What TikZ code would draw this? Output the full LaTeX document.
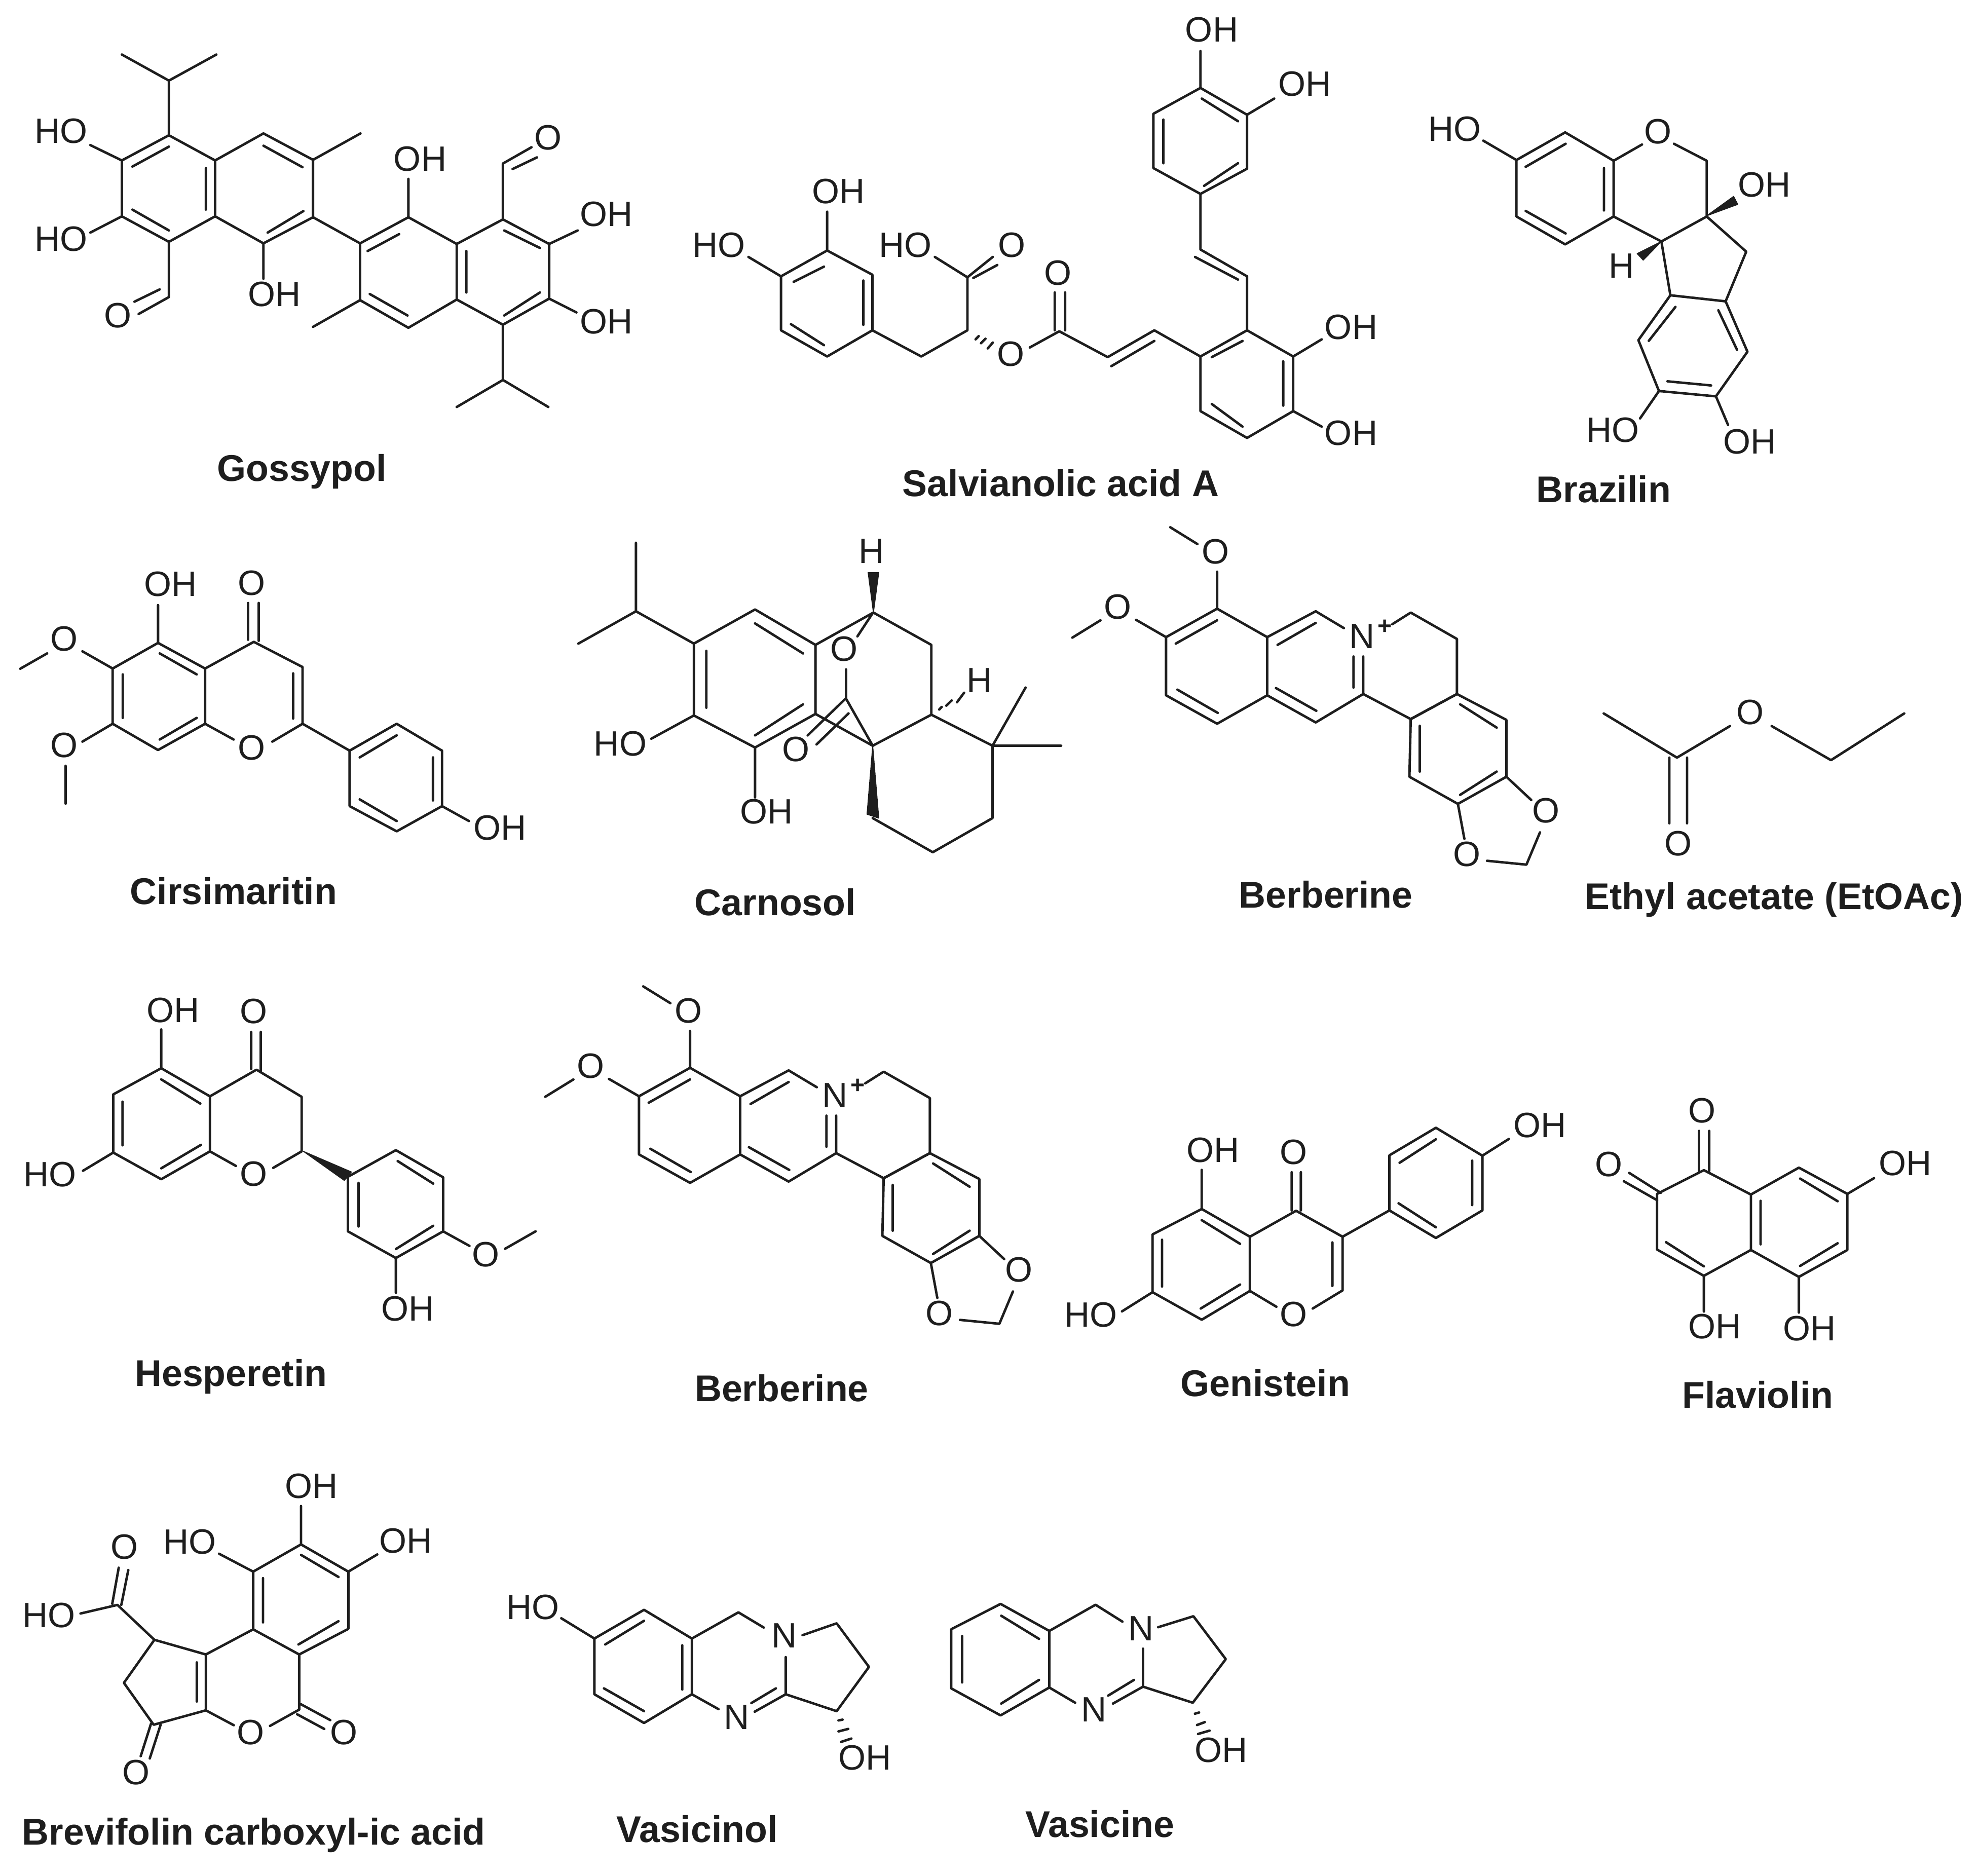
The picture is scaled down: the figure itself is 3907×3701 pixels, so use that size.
\documentclass[tikz,border=0pt]{standalone}
\usepackage{fontspec}
\setmainfont{Liberation Sans}
\definecolor{ink}{HTML}{1E1E1E}
\tikzset{
  bond/.style={draw=ink,line width=0.55pt,line cap=round,line join=round},
  wedgeb/.style={fill=ink,draw=ink,line width=0.2pt,line join=round},
  atom/.style={font=\fontsize{7.9}{8}\selectfont,text=ink,inner sep=0pt,outer sep=0pt},
  plusm/.style={font=\bfseries\fontsize{5.5}{6}\selectfont,text=ink,inner sep=0pt},
  title/.style={font=\bfseries\fontsize{8.35}{9}\selectfont,text=ink,inner sep=0pt,anchor=base},
  zm/.style n args={4}{shift={(#1,#2)},xscale=#3,yscale=#4}
}
\newcommand{\lab}[3]{\node[atom] (#1) at (#2) {#3};}
\newcommand{\berb}[1]{%
  \draw[bond] (473,355)--(628,465)--(628,690)--(473,800)--(315,690)--(315,465)--cycle;
  \draw[bond] (345,490)--(473,400) (350,668)--(475,758) (660,495)--(778,410) (655,662)--(780,750);
  \draw[bond] (628,465)--(778,365)--(865,430) (925,540)--(925,685)--(778,795)--(628,690) (895,540)--(895,660);
  \draw[bond] (1015,415)--(1072,370)--(1215,472)--(1215,685)--(1072,782)--(925,685);
  \draw[bond] (1072,782)--(1215,685)--(1368,785)--(1368,1005)--(1218,1110)--(1068,1005)--cycle;
  \draw[bond] (1225,725)--(1338,815) (1100,808)--(1100,985) (1225,1075)--(1338,985);
  \draw[bond] (1368,1005)--(1445,1095) (1472,1220)--(1430,1345)--(1308,1330) (1238,1245)--(1218,1110);
  \draw[bond] (473,355)--(473,212) (412,105)--(328,40) (315,465)--(222,398) (112,400)--(25,467);
  \lab{#1n}{922,462}{N}\node[plusm] (#1p) at (992,425) {+};
  \lab{#1o1}{1490,1135}{O}\lab{#1o2}{1245,1305}{O}\lab{#1o3}{468,135}{O}\lab{#1o4}{165,348}{O}
}
\begin{document}
\begin{tikzpicture}[x=0.004cm,y=-0.004cm]
\useasboundingbox (0,0) rectangle (3907,3701);
\fill[white] (0,0) rectangle (3907,3701);

% Gossypol
\begin{scope}[zm={0}{50}{1300/1568}{950/1568}]
\draw[bond] (402,358)--(512,440)--(512,622)--(402,705)--(290,622)--(290,440)--cycle;
\draw[bond] (512,440)--(627,352)--(745,438)--(745,625)--(627,710)--(512,622);
\draw[bond] (745,438)--(858,352) (402,358)--(402,180)--(290,95) (402,180)--(515,95);
\draw[bond] (290,440)--(215,390) (290,622)--(215,675);
\draw[bond] (402,705)--(402,885)--(330,940) (380,860)--(320,900) (627,710)--(627,825);
\draw[bond] (745,625)--(857,710);
\draw[bond] (857,710)--(972,625)--(1087,712)--(1087,893)--(972,985)--(857,895)--cycle;
\draw[bond] (1087,712)--(1197,632)--(1307,712)--(1307,890)--(1197,975)--(1087,893);
\draw[bond] (857,895)--(745,982) (972,625)--(972,500) (1197,632)--(1197,450)--(1265,397) (1220,468)--(1278,430);
\draw[bond] (1307,712)--(1375,668) (1307,890)--(1372,935) (1197,975)--(1197,1155)--(1087,1243) (1197,1155)--(1305,1243);
\draw[bond] (315,460)--(402,395) (490,465)--(490,600) (315,600)--(402,668) (627,392)--(720,462) (637,675)--(722,605);
\draw[bond] (875,735)--(950,680) (880,875)--(970,945) (1200,668)--(1285,725) (1110,735)--(1110,870) (1200,945)--(1285,870);
\lab{ga1}{145,345}{HO}\lab{ga2}{145,695}{HO}\lab{ga3}{280,945}{O}\lab{ga4}{653,875}{OH}
\lab{ga5}{1000,435}{OH}\lab{ga6}{1305,365}{O}\lab{ga7}{1443,615}{OH}\lab{ga8}{1443,965}{OH}
\end{scope}

% Salvianolic acid A
\begin{scope}[zm={1300}{0}{1400/1568}{1000/1568}]
\draw[bond] (372,775)--(472,850)--(472,1022)--(372,1103)--(270,1022)--(270,855)--cycle;
\draw[bond] (372,775)--(372,655) (270,855)--(198,795);
\draw[bond] (298,872)--(365,825) (452,868)--(452,1005) (292,1003)--(365,1068);
\draw[bond] (472,1022)--(580,1103)--(682,1022)--(682,858)--(610,795) (682,858)--(738,795) (695,860)--(748,820);
\draw[bond] (700,1050)--(707,1040) (712,1062)--(722,1048) (727,1078)--(738,1060);
\draw[bond] (820,1075)--(885,1025)--(992,1105)--(1095,1022)--(1197,1103) (875,1022)--(875,905) (898,1022)--(898,905) (1000,1133)--(1095,1055);
\draw[bond] (1197,1103)--(1300,1022)--(1402,1103)--(1402,1272)--(1300,1355)--(1197,1272)--cycle;
\draw[bond] (1222,1105)--(1290,1055) (1380,1118)--(1380,1255) (1222,1250)--(1290,1320);
\draw[bond] (1402,1103)--(1465,1050) (1402,1272)--(1465,1320);
\draw[bond] (1300,1022)--(1300,855)--(1197,772)--(1197,600) (1280,865)--(1185,795);
\draw[bond] (1197,600)--(1300,522)--(1300,355)--(1197,272)--(1093,352)--(1093,520)--cycle;
\draw[bond] (1205,575)--(1280,505) (1115,370)--(1115,505) (1200,305)--(1280,375);
\draw[bond] (1197,272)--(1197,158) (1300,355)--(1360,305);
\lab{sa1}{397,592}{OH}\lab{sa2}{133,758}{HO}\lab{sa3}{545,758}{HO}\lab{sa4}{780,758}{O}
\lab{sa5}{778,1095}{O}\lab{sa6}{882,845}{O}\lab{sa7}{1530,1012}{OH}\lab{sa8}{1530,1340}{OH}
\lab{sa9}{1222,92}{OH}\lab{sa10}{1428,260}{OH}
\end{scope}

% Brazilin
\begin{scope}[zm={2800}{200}{750/1568}{750/1568}]
\draw[bond] (402,242)--(603,128)--(803,245)--(803,475)--(603,590)--(402,475)--cycle;
\draw[bond] (440,270)--(605,175) (763,275)--(763,450) (440,452)--(605,545) (402,242)--(265,162);
\draw[bond] (803,245)--(920,178) (1052,175)--(1187,245)--(1187,475)--(1000,578)--(803,475);
\fill[wedgeb] (1187,472)--(1298,392)--(1315,425)--cycle;
\fill[wedgeb] (1000,578)--(900,628)--(925,655)--cycle;
\draw[bond] (1000,578)--(1037,800) (1187,475)--(1350,620)--(1265,825);
\draw[bond] (1037,800)--(1265,825)--(1355,1033)--(1225,1217)--(990,1195)--(905,985)--cycle;
\draw[bond] (948,988)--(1058,848) (1235,862)--(1312,1025) (1025,1155)--(1205,1172);
\draw[bond] (990,1195)--(912,1308) (1225,1217)--(1275,1335);
\lab{br1}{148,115}{HO}\lab{br2}{985,125}{O}\lab{br3}{1425,345}{OH}\lab{br4}{835,678}{H}
\lab{br5}{800,1355}{HO}\lab{br6}{1365,1403}{OH}
\end{scope}

% Cirsimaritin
\begin{scope}[zm={20}{1080}{1040/1568}{650/1568}]
\draw[bond] (440,455)--(580,577)--(580,840)--(440,965)--(305,840)--(305,577)--cycle;
\draw[bond] (445,505)--(555,605) (335,605)--(335,812) (445,915)--(555,812) (440,455)--(440,275);
\draw[bond] (580,577)--(725,450)--(870,570)--(870,840)--(780,925) (665,915)--(580,840) (842,600)--(842,815);
\draw[bond] (708,440)--(708,265) (740,445)--(740,265);
\draw[bond] (305,577)--(215,495) (110,505)--(30,578) (305,840)--(215,925) (165,1040)--(165,1220);
\draw[bond] (870,840)--(1010,968);
\draw[bond] (1010,968)--(1150,840)--(1285,968)--(1285,1232)--(1150,1352)--(1010,1232)--cycle;
\draw[bond] (1040,1000)--(1150,895) (1258,1000)--(1258,1205) (1040,1200)--(1150,1303) (1285,1232)--(1365,1303);
\lab{ci1}{478,175}{OH}\lab{ci2}{718,170}{O}\lab{ci3}{160,435}{O}\lab{ci4}{160,943}{O}
\lab{ci5}{718,955}{O}\lab{ci6}{1458,1335}{OH}
\end{scope}

% Carnosol
\begin{scope}[zm={1050}{1020}{1100/1568}{800/1568}]
\draw[bond] (292,100)--(292,365) (130,490)--(292,365)--(455,490);
\draw[bond] (455,490)--(627,358)--(797,495)--(797,762)--(627,892)--(455,768)--cycle;
\draw[bond] (490,518)--(490,738) (627,412)--(762,528) (627,845)--(762,725);
\draw[bond] (455,768)--(335,858) (627,892)--(627,1085);
\draw[bond] (797,495)--(960,370)--(1123,495)--(1123,765)--(958,885)--(797,762);
\draw[bond] (1123,765)--(1295,885)--(1295,1165)--(1127,1297)--(958,1165);
\fill[wedgeb] (958,885)--(942,1150)--(975,1165)--cycle;
\fill[wedgeb] (960,370)--(945,215)--(975,215)--cycle;
\draw[bond] (1295,885)--(1388,660) (1295,885)--(1488,885);
\draw[bond] (1145,745)--(1152,735) (1165,730)--(1180,710) (1195,717)--(1215,680);
\draw[bond] (958,372)--(915,462) (883,590)--(883,703)--(958,885) (880,705)--(775,845) (890,760)--(800,880);
\lab{ca1}{955,132}{H}\lab{ca2}{878,510}{O}\lab{ca3}{1258,632}{H}\lab{ca4}{248,878}{HO}
\lab{ca5}{742,898}{O}\lab{ca6}{660,1140}{OH}
\end{scope}

% Berberine (upper)
\begin{scope}[zm={2100}{1020}{1000/1568}{800/1568}]
\berb{bu}
\end{scope}

% Ethyl acetate
\begin{scope}[scale=2.4917]
\draw[bond] (1270,565)--(1328,600)--(1370,575) (1403,575)--(1450,602)--(1508,565) (1322,600)--(1322,652) (1336,600)--(1336,652);
\lab{ea1}{1386,564}{O}\lab{ea2}{1329,668}{O}
\end{scope}

% Hesperetin
\begin{scope}[zm={20}{1930}{1100/1568}{750/1568}]
\draw[bond] (425,372)--(562,488)--(562,715)--(425,830)--(290,720)--(290,480)--cycle;
\draw[bond] (425,418)--(535,518) (316,510)--(316,690) (425,785)--(537,688);
\draw[bond] (425,372)--(425,212) (290,720)--(205,795) (678,375)--(678,222) (705,385)--(705,222);
\draw[bond] (562,488)--(693,378)--(820,490)--(820,715)--(740,783) (635,775)--(562,715);
\fill[wedgeb] (825,715)--(960,800)--(940,835)--cycle;
\draw[bond] (950,820)--(1085,710)--(1218,822)--(1218,1045)--(1085,1155)--(950,1045)--cycle;
\draw[bond] (1090,755)--(1190,848) (980,845)--(980,1025) (1085,1118)--(1190,1022);
\draw[bond] (1085,1155)--(1085,1298) (1218,1045)--(1292,1105) (1392,1117)--(1478,1045);
\lab{he1}{458,132}{OH}\lab{he2}{685,138}{O}\lab{he3}{112,810}{HO}\lab{he4}{685,808}{O}
\lab{he5}{1118,1365}{OH}\lab{he6}{1338,1140}{O}
\end{scope}

% Berberine (lower)
\begin{scope}[zm={1060}{1926}{1000/1568}{800/1568}]
\berb{bl}
\end{scope}

% Genistein
\begin{scope}[zm={2080}{2150}{1050/1568}{550/1568}]
\draw[bond] (435,672)--(577,828)--(577,1133)--(435,1295)--(290,1140)--(290,815)--cycle;
\draw[bond] (435,735)--(548,868) (318,845)--(318,1108) (432,1232)--(548,1097);
\draw[bond] (435,672)--(435,452) (290,1140)--(200,1248) (700,680)--(700,465) (727,680)--(727,465);
\draw[bond] (577,828)--(713,682)--(850,828)--(850,1130)--(762,1232) (820,860)--(820,1105) (655,1222)--(577,1133);
\draw[bond] (850,828)--(988,680);
\draw[bond] (988,680)--(1125,835)--(1262,680)--(1262,372)--(1125,215)--(988,370)--cycle;
\draw[bond] (1015,640)--(1125,775) (1232,400)--(1232,650) (1018,412)--(1125,280) (1262,372)--(1340,278);
\lab{ge1}{468,342}{OH}\lab{ge2}{705,352}{O}\lab{ge3}{108,1268}{HO}\lab{ge4}{705,1265}{O}\lab{ge5}{1432,200}{OH}
\end{scope}

% Flaviolin
\begin{scope}[zm={3100}{2130}{750/1568}{650/1568}]
\draw[bond] (548,432)--(742,548)--(742,812)--(548,935)--(355,810)--(355,545)--cycle;
\draw[bond] (742,548)--(940,420)--(1140,545)--(1140,812)--(940,940)--(742,812);
\draw[bond] (782,578)--(782,785) (945,472)--(1100,580) (945,888)--(1100,780) (392,775)--(548,890);
\draw[bond] (528,435)--(528,245) (570,435)--(570,245) (355,575)--(218,485) (370,540)--(240,445);
\draw[bond] (548,935)--(548,1105) (940,940)--(940,1110) (1140,545)--(1250,470);
\lab{fl1}{540,148}{O}\lab{fl2}{155,403}{O}\lab{fl3}{592,1175}{OH}\lab{fl4}{983,1185}{OH}\lab{fl5}{1378,400}{OH}
\end{scope}

% Brevifolin carboxylic acid
\begin{scope}[zm={20}{2880}{800/1568}{720/1568}]
\draw[bond] (1125,365)--(1308,482)--(1308,728)--(1118,838)--(940,730)--(940,482)--cycle;
\draw[bond] (1125,410)--(1270,505) (978,510)--(978,700) (1115,795)--(1270,695);
\draw[bond] (1125,365)--(1125,200) (940,482)--(808,405) (1308,482)--(1420,408);
\draw[bond] (940,730)--(757,838)--(757,1078)--(865,1142) (722,872)--(722,1040) (1005,1145)--(1118,1075)--(1118,838);
\draw[bond] (1125,1052)--(1238,1120) (1110,1095)--(1215,1158);
\draw[bond] (757,838)--(558,775)--(440,960)--(555,1140)--(757,1078);
\draw[bond] (545,1135)--(505,1275) (582,1140)--(540,1285);
\draw[bond] (558,775)--(415,625)--(272,662) (395,620)--(420,465) (430,625)--(457,475);
\lab{bf1}{1165,115}{OH}\lab{bf2}{695,355}{HO}\lab{bf3}{1530,350}{OH}\lab{bf4}{930,1172}{O}
\lab{bf5}{1290,1172}{O}\lab{bf6}{488,1345}{O}\lab{bf7}{150,670}{HO}\lab{bf8}{442,375}{O}
\end{scope}

% Vasicinol
\begin{scope}[zm={980}{3080}{800/1568}{1/3}]
\draw[bond] (570,290)--(755,460)--(755,790)--(570,960)--(378,790)--(378,460)--cycle;
\draw[bond] (420,495)--(570,355) (718,500)--(718,762) (415,755)--(570,890) (378,460)--(250,340);
\draw[bond] (755,460)--(935,305)--(1033,395) (1183,440)--(1315,370)--(1440,628)--(1315,890)--(1118,790)--(1118,570);
\draw[bond] (755,790)--(858,878) (1118,790)--(998,893) (985,842)--(1080,755);
\draw[bond] (1322,945)--(1338,940) (1322,1010)--(1360,995) (1332,1072)--(1372,1052);
\lab{vl1}{140,275}{HO}\lab{vl2}{1112,442}{N}\lab{vl3}{928,925}{N}\lab{vl4}{1425,1165}{OH}
\end{scope}

% Vasicine
\begin{scope}[zm={1850}{3130}{650/1568}{1/3}]
\draw[bond] (300,105)--(532,265)--(532,600)--(300,765)--(65,605)--(65,255)--cycle;
\draw[bond] (303,175)--(483,312) (117,295)--(117,570) (303,695)--(483,555);
\draw[bond] (532,265)--(752,110)--(880,210) (1050,243)--(1218,178)--(1372,432)--(1215,690)--(978,595)--(978,370);
\draw[bond] (532,600)--(655,690) (978,595)--(835,695) (812,648)--(935,555);
\draw[bond] (1225,755)--(1245,748) (1235,822)--(1272,805) (1240,875)--(1295,855);
\lab{vc1}{968,250}{N}\lab{vc2}{745,732}{N}\lab{vc3}{1350,970}{OH}
\end{scope}

% Names
\begin{scope}[scale=2.4917]
\node[title] (tgos) at (239,381) {Gossypol};
\node[title] (tsal) at (840,393) {Salvianolic acid A};
\node[title] (tbra) at (1270,398) {Brazilin};
\node[title] (tcir) at (185,716) {Cirsimaritin};
\node[title] (tcar) at (614,725) {Carnosol};
\node[title] (tbe1) at (1050,719) {Berberine};
\node[title] (teth) at (1405,720) {Ethyl acetate (EtOAc)};
\node[title] (thes) at (183,1098) {Hesperetin};
\node[title] (tbe2) at (619,1110) {Berberine};
\node[title] (tgen) at (1002,1106) {Genistein};
\node[title] (tfla) at (1392,1115) {Flaviolin};
\node[title] (tbre) at (201,1461) {Brevifolin carboxyl-ic acid};
\node[title] (tvl) at (552,1459) {Vasicinol};
\node[title] (tvc) at (871,1455) {Vasicine};
\end{scope}
\end{tikzpicture}
\end{document}
